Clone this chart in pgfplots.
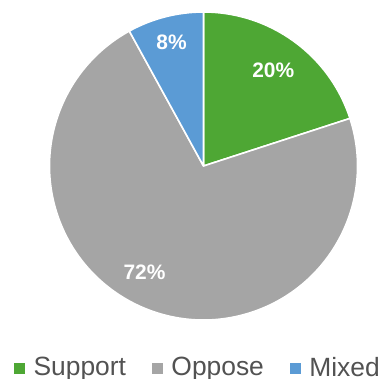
\documentclass[border=0pt]{standalone}
\usepackage{pgfplots}
\pgfplotsset{compat=1.18}
\usepackage{pgfplotstable}
\usepackage{fontspec}
\setmainfont{Liberation Sans}
\definecolor{cSupport}{RGB}{78,167,52}
\definecolor{cOppose}{RGB}{165,165,165}
\definecolor{cMixed}{RGB}{91,155,213}
% value in percent, label angle (deg) and label radius (fraction of pie radius)
\pgfplotstableread{
label   value colour   lang  lrad
Support 20    cSupport 54    0.77
Oppose  72    cOppose  241   0.79
Mixed   8     cMixed   104.5 0.83
}\piedata
\begin{document}
\begin{tikzpicture}
\begin{axis}[
  hide axis, scale only axis,
  width=386bp, height=379bp,
  xmin=-1.3214, xmax=1.1851,
  ymin=-1.3831, ymax=1.0779,
  clip=false,
  legend columns=3,
  legend image code/.code={\fill[#1] (0bp,-6bp) rectangle (10bp,4bp);},
  legend style={at={(axis description cs:0,0)}, anchor=south west,
    xshift=14bp, yshift=1bp, draw=none, fill=none, inner sep=0pt,
    font=\fontsize{26.5}{31}\selectfont, text=black!68,
    nodes={inner sep=0pt, text=black!68},
    /tikz/every odd column/.style={column sep=9bp},
    /tikz/every even column/.style={column sep=26bp}},
]
\pgfplotsextra{
  \gdef\cumangle{90}
  \foreach \i in {0,1,2} {
    \pgfplotstablegetelem{\i}{value}\of\piedata
    \pgfmathsetmacro{\sweep}{3.6*\pgfplotsretval}
    \pgfplotstablegetelem{\i}{colour}\of\piedata
    \edef\col{\pgfplotsretval}
    \pgfmathsetmacro{\endangle}{\cumangle-\sweep}
    \fill[\col, draw=white, line width=1.6bp, line join=round]
      (axis cs:0,0) -- (axis cs:{cos(\cumangle)},{sin(\cumangle)})
      arc[start angle=\cumangle, end angle=\endangle, radius=154bp] -- cycle;
    \xdef\cumangle{\endangle}
  }
  \foreach \i in {0,1,2} {
    \pgfplotstablegetelem{\i}{value}\of\piedata \edef\v{\pgfplotsretval}
    \pgfplotstablegetelem{\i}{lang}\of\piedata \edef\la{\pgfplotsretval}
    \pgfplotstablegetelem{\i}{lrad}\of\piedata \edef\lr{\pgfplotsretval}
    \node[text=white, font=\fontsize{21}{25}\selectfont\bfseries]
      at (axis cs:{\lr*cos(\la)},{\lr*sin(\la)}) {\v\%};
  }
}
\addlegendimage{cSupport}\addlegendentry{Support}
\addlegendimage{cOppose}\addlegendentry{Oppose}
\addlegendimage{cMixed}\addlegendentry{Mixed}
\end{axis}
\pgfresetboundingbox
\path (0,0) rectangle (386bp,379bp);
\end{tikzpicture}
\end{document}
